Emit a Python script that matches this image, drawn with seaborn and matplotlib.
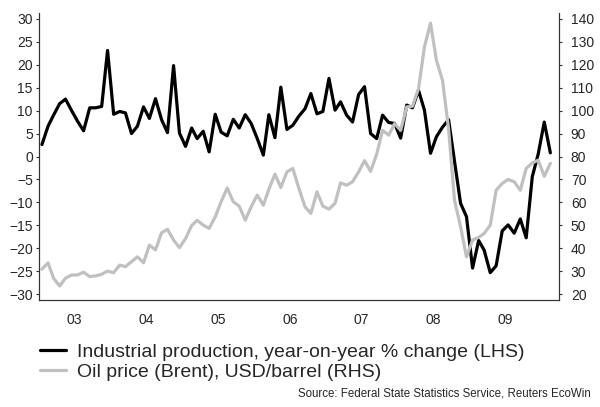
import numpy as np
import pandas as pd
import matplotlib
matplotlib.use("Agg")
import matplotlib.pyplot as plt
import matplotlib.dates as mdates
import seaborn as sns

# monthly data, Jan 2003 .. Feb 2010
ip_yoy = [2.6, 6.6, 9.0, 11.5, 12.5, 10.0, 7.7, 5.6, 10.6, 10.6, 10.9, 23.1,
          9.2, 9.8, 9.5, 5.0, 6.6, 10.8, 8.3, 12.6, 8.0, 5.2, 19.8, 5.1,
          2.2, 6.2, 3.9, 5.5, 1.0, 9.2, 5.3, 4.5, 8.1, 6.2, 9.1, 7.2,
          3.9, 0.3, 9.1, 4.1, 15.1, 5.9, 6.8, 8.8, 10.4, 13.7, 9.3, 9.8,
          17.0, 10.1, 11.9, 9.0, 7.5, 13.5, 15.2, 5.0, 3.9, 9.0, 7.4, 7.2,
          4.0, 11.2, 10.6, 14.4, 10.1, 0.7, 4.3, 6.4, 8.0, -1.0, -10.2, -13.1,
          -24.3, -18.3, -20.4, -25.3, -23.8, -16.2, -14.9, -16.7, -13.6, -17.7, -4.4, 0.5,
          7.5, 0.8]
oil_brent = [30.9, 33.7, 27.0, 23.6, 27.0, 28.4, 28.4, 29.6, 27.7, 28.0, 28.7, 30.1,
             29.4, 32.7, 32.0, 34.2, 36.3, 33.7, 41.4, 39.3, 46.8, 48.3, 43.6, 40.3,
             44.3, 49.9, 52.2, 50.1, 48.7, 53.7, 60.3, 66.3, 60.3, 58.4, 52.3, 58.1,
             63.2, 58.8, 65.7, 72.3, 66.5, 73.3, 74.8, 66.1, 58.1, 55.2, 64.6, 58.4,
             57.1, 59.6, 68.5, 67.5, 69.0, 73.3, 78.2, 73.5, 81.0, 91.4, 89.3, 94.3,
             91.4, 101.6, 101.9, 109.6, 127.7, 138.1, 121.9, 113.2, 92.0, 61.0, 49.4, 36.3,
             43.6, 44.8, 46.5, 50.1, 65.3, 68.3, 70.0, 69.0, 65.3, 74.8, 77.2, 78.4,
             71.4, 77.0]
year_labels = ["03", "04", "05", "06", "07", "08", "09"]

months = pd.date_range("2003-01-01", periods=len(ip_yoy), freq="MS") + pd.Timedelta(days=15)
df = pd.DataFrame({"month": months, "ip": ip_yoy, "oil": oil_brent})

sns.set_style("white")
plt.rcParams["font.family"] = ["Liberation Sans", "DejaVu Sans"]

fig = plt.figure(figsize=(6, 4.07), dpi=100)
ax = fig.add_axes([39 / 600, 1 - 300 / 407, 520 / 600, 287 / 407])
ax2 = ax.twinx()

sns.lineplot(data=df, x="month", y="ip", ax=ax, color="black", linewidth=2.3,
             label="Industrial production, year-on-year % change (LHS)", legend=False)
sns.lineplot(data=df, x="month", y="oil", ax=ax2, color="#c0c0c0", linewidth=2.3,
             label="Oil price (Brent), USD/barrel (RHS)", legend=False)

ax.set_ylim(-31.25, 31.25)
ax2.set_ylim(17.5, 142.5)
ax.set_yticks(range(-30, 31, 5))
ax2.set_yticks(range(20, 141, 10))
ax.set_xlim(pd.Timestamp("2003-01-01"), pd.Timestamp("2010-04-01"))

ax.xaxis.set_major_locator(mdates.YearLocator())
ax.xaxis.set_major_formatter(plt.NullFormatter())
ax.set_xticks([pd.Timestamp(f"20{y}-07-01") for y in year_labels], labels=year_labels, minor=True)
ax.tick_params(axis="x", which="major", direction="out", length=3, width=0.8, color="#333333")
ax.tick_params(axis="x", which="minor", length=0, pad=9, labelsize=10)
ax.tick_params(axis="y", direction="out", length=2.5, width=0.8, pad=2, labelsize=10, color="#333333")
ax2.tick_params(axis="y", direction="out", length=2.5, width=0.8, pad=6, labelsize=10, color="#333333")

for a in (ax, ax2):
    a.set_xlabel("")
    a.set_ylabel("")
    a.spines["top"].set_visible(False)
    for s in ("left", "right", "bottom"):
        a.spines[s].set_color("#333333")
        a.spines[s].set_linewidth(0.8)

handles = ax.get_lines()[:1] + ax2.get_lines()[:1]
labels = [h.get_label() for h in handles]
fig.legend(handles, labels, loc="upper left", bbox_to_anchor=(40 / 600, 1 - 343 / 407),
           frameon=False, fontsize=14, handlelength=1.35, handletextpad=0.55,
           labelspacing=0.13, borderpad=0, borderaxespad=0)

fig.text(591 / 600, 1 - 393 / 407, "Source: Federal State Statistics Service, Reuters EcoWin",
         ha="right", va="center", fontsize=8.3)

fig.savefig("out.png", dpi=100)
